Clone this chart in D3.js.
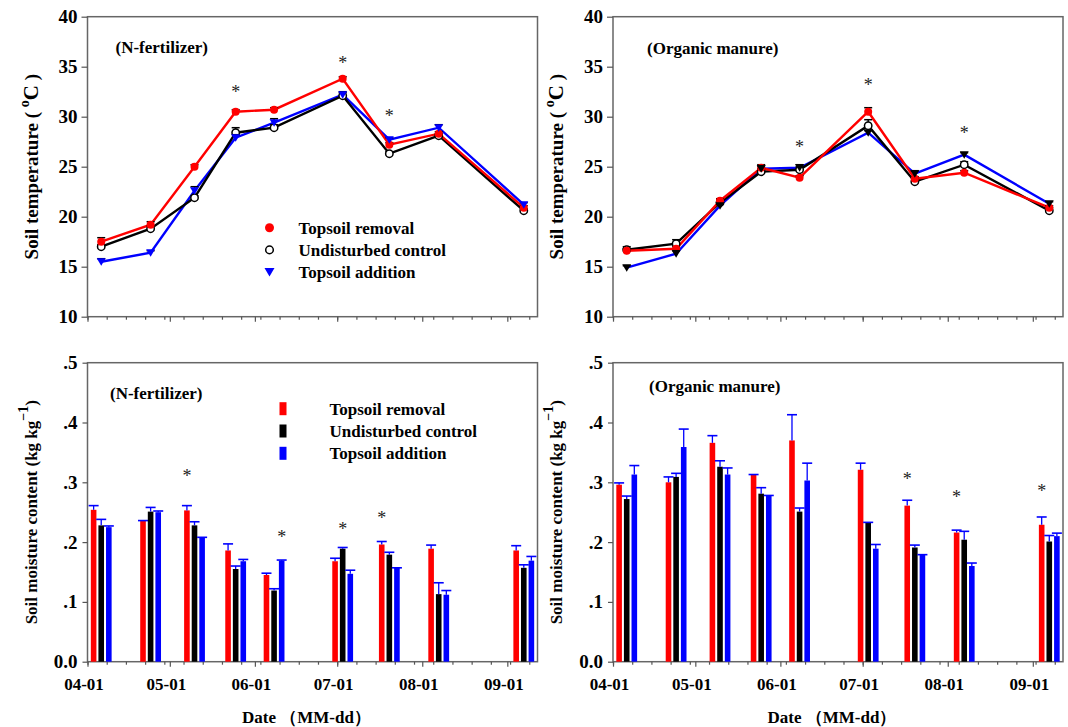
<!DOCTYPE html>
<meta charset="utf-8">
<style>
  body { margin: 0; background: #fff; }
  svg text { font-family: "Times New Roman", "Liberation Serif", serif; font-weight: bold; fill: #000; }
  .axis path { display: none; }
  .axis line { stroke: #555; stroke-width: 1.2; }
  .axis text { font-size: 17px; }
  .frame { fill: none; stroke: #666; stroke-width: 1.5; }
  .star { font-weight: normal; font-size: 18px; fill: #222; }
</style>
<body>
<script src="https://d3js.org/d3.v7.min.js"></script>
<script>
// sampling dates (MM-dd)
var dates = ["04-06", "04-24", "05-10", "05-25", "06-08", "07-03", "07-20", "08-07", "09-07"];
var seriesNames = ["Topsoil removal", "Undisturbed control", "Topsoil addition"];
var colors = ["#ff0000", "#000000", "#0000ff"];

// soil temperature, N-fertilizer
var tempN_removal = [17.5, 19.2, 25.0, 30.5, 30.7, 33.8, 27.2, 28.3, 20.9];
var tempN_control = [17.0, 18.8, 21.9, 28.4, 28.9, 32.1, 26.3, 28.1, 20.6];
var tempN_addition = [15.5, 16.4, 22.6, 27.9, 29.4, 32.2, 27.7, 28.9, 21.2];
var tempN_removalErr = [0.4, 0.3, 0.2, 0.2, 0.2, 0.2, 0.2, 0.2, 0.2];
var tempN_controlErr = [0.2, 0.3, 0.2, 0.5, 0.3, 0.3, 0.2, 0.2, 0.2];
var tempN_additionErr = [0.3, 0.2, 0.4, 0.3, 0.4, 0.3, 0.2, 0.3, 0.2];

// soil temperature, organic manure
var tempO_removal = [16.6, 16.8, 21.6, 24.9, 23.9, 30.5, 23.8, 24.4, 20.9];
var tempO_control = [16.7, 17.3, 21.4, 24.5, 24.7, 29.1, 23.5, 25.2, 20.6];
var tempO_addition = [14.9, 16.3, 21.1, 24.8, 24.9, 28.4, 24.3, 26.2, 21.3];
var tempO_removalErr = [0.2, 0.2, 0.2, 0.3, 0.2, 0.4, 0.2, 0.2, 0.2];
var tempO_controlErr = [0.3, 0.4, 0.3, 0.3, 0.3, 0.6, 0.3, 0.3, 0.3];
var tempO_additionErr = [0.2, 0.3, 0.2, 0.3, 0.3, 0.2, 0.3, 0.2, 0.2];

// soil moisture, N-fertilizer
var moistN_removal = [0.254, 0.236, 0.253, 0.186, 0.145, 0.168, 0.196, 0.189, 0.186];
var moistN_control = [0.228, 0.251, 0.228, 0.155, 0.119, 0.189, 0.179, 0.113, 0.157];
var moistN_addition = [0.225, 0.250, 0.207, 0.168, 0.169, 0.147, 0.157, 0.112, 0.169];
var moistN_removalErr = [0.007, 0.000, 0.008, 0.011, 0.003, 0.005, 0.005, 0.006, 0.008];
var moistN_controlErr = [0.010, 0.007, 0.006, 0.005, 0.003, 0.002, 0.004, 0.019, 0.005];
var moistN_additionErr = [0.002, 0.002, 0.001, 0.003, 0.001, 0.006, 0.000, 0.007, 0.007];

// soil moisture, organic manure
var moistO_removal = [0.296, 0.300, 0.366, 0.313, 0.370, 0.321, 0.261, 0.216, 0.229];
var moistO_control = [0.272, 0.309, 0.326, 0.281, 0.251, 0.232, 0.191, 0.204, 0.201];
var moistO_addition = [0.313, 0.359, 0.313, 0.278, 0.303, 0.189, 0.179, 0.160, 0.210];
var moistO_removalErr = [0.003, 0.009, 0.012, 0.000, 0.043, 0.011, 0.009, 0.004, 0.013];
var moistO_controlErr = [0.005, 0.006, 0.010, 0.010, 0.006, 0.001, 0.004, 0.014, 0.010];
var moistO_additionErr = [0.015, 0.030, 0.011, 0.000, 0.029, 0.007, 0.000, 0.005, 0.005];

// significance marks: date index, series (bar) index, y value
var starsTempN = [[3, 1, 32.7], [5, 1, 35.6], [6, 1, 30.3]];
var starsTempO = [[4, 1, 27.2], [5, 1, 33.4], [7, 1, 28.6]];
var starsMoistN = [[2, 0, 0.314], [4, 2, 0.213], [5, 1, 0.226], [6, 0, 0.244]];
var starsMoistO = [[6, 0, 0.309], [7, 0, 0.280], [8, 0, 0.289]];

var tempTicks = [10, 15, 20, 25, 30, 35, 40];
var moistTicks = [0, 0.1, 0.2, 0.3, 0.4, 0.5];

var parse = d3.timeParse("%m-%d");
var start = parse("04-01"), end = parse("09-12");
var W = 450, H = 300;

var svg = d3.select("body").append("svg")
    .attr("width", 1068)
    .attr("height", 727);

var x = d3.scaleTime().domain([start, end]).range([0, W]);
var majorTicks = d3.timeMonth.range(start, end);
var minorTicks = d3.range(0, 165, 7).map(function(d) { return d3.timeDay.offset(start, d); });

function xAxes(g, h, labels) {
  g.append("g").attr("class", "axis")
    .attr("transform", "translate(0," + h + ")")
    .call(d3.axisBottom(x).tickValues(minorTicks).tickSize(3).tickFormat(""));
  var ax = g.append("g").attr("class", "axis")
    .attr("transform", "translate(0," + h + ")")
    .call(d3.axisBottom(x).tickValues(majorTicks).tickSize(5).tickPadding(11)
      .tickFormat(labels ? d3.timeFormat("%m-%d") : ""));
  ax.selectAll("text").attr("dx", -4);
}

function tempPanel(px, py, vals, errs, stars, title, titlePos, triColor, legend) {
  var g = svg.append("g").attr("transform", "translate(" + px + "," + py + ")");
  var y = d3.scaleLinear().domain([10, 40]).range([H, 0]);

  g.append("rect").attr("class", "frame").attr("width", W).attr("height", H);
  g.append("g").attr("class", "axis")
    .call(d3.axisLeft(y).tickValues(tempTicks).tickSize(6).tickPadding(4))
    .selectAll("text").style("font-size", "19px");
  xAxes(g, H, false);

  var line = d3.line()
    .x(function(d, i) { return x(parse(dates[i])); })
    .y(function(d) { return y(d); });

  [2, 1, 0].forEach(function(k) {
    g.append("path").datum(vals[k])
      .attr("fill", "none").attr("stroke", colors[k]).attr("stroke-width", 2.4)
      .attr("d", line);
  });
  [1, 0, 2].forEach(function(k) {
    var eb = g.append("g");
    vals[k].forEach(function(v, i) {
      var cx = x(parse(dates[i]));
      eb.append("line").attr("x1", cx).attr("x2", cx)
        .attr("y1", y(v)).attr("y2", y(v + errs[k][i]))
        .attr("stroke", "#000").attr("stroke-width", 1.5);
      eb.append("line").attr("x1", cx - 4).attr("x2", cx + 4)
        .attr("y1", y(v + errs[k][i])).attr("y2", y(v + errs[k][i]))
        .attr("stroke", "#000").attr("stroke-width", 1.5);
    });
    var pts = g.selectAll(null).data(vals[k]).enter();
    if (k == 0) {
      pts.append("circle").attr("cx", function(d, i) { return x(parse(dates[i])); })
        .attr("cy", function(d) { return y(d); }).attr("r", 4).attr("fill", colors[0]);
    } else if (k == 1) {
      pts.append("circle").attr("cx", function(d, i) { return x(parse(dates[i])); })
        .attr("cy", function(d) { return y(d); }).attr("r", 3.7)
        .attr("fill", "#fff").attr("stroke", "#000").attr("stroke-width", 1.5);
    } else {
      pts.append("path").attr("d", "M-4.5,-3.5L4.5,-3.5L0,4Z")
        .attr("transform", function(d, i) { return "translate(" + x(parse(dates[i])) + "," + y(d) + ")"; })
        .attr("fill", triColor);
    }
  });

  g.selectAll(null).data(stars).enter().append("text")
    .attr("class", "star").attr("text-anchor", "middle")
    .attr("x", function(d) { return x(parse(dates[d[0]])); })
    .attr("y", function(d) { return y(d[2]); })
    .attr("dy", "0.47em").text("*");

  g.append("text").attr("x", titlePos[0]).attr("y", titlePos[1]).attr("dy", "0.35em")
    .style("font-size", "17px").text(title);

  var yl = g.append("text")
    .attr("transform", "translate(" + (-50) + "," + (H / 2) + ") rotate(-90)")
    .attr("text-anchor", "middle").style("font-size", "19px");
  yl.append("tspan").text("Soil temperature ( ");
  yl.append("tspan").attr("dy", -9).style("font-size", "14px").text("o");
  yl.append("tspan").attr("dy", 9).style("font-size", "21px").text("C");
  yl.append("tspan").text(" )");

  if (legend) {
    var lg = g.append("g").attr("transform", "translate(182,211)");
    seriesNames.forEach(function(n, k) {
      var row = lg.append("g").attr("transform", "translate(0," + (k * 22.2) + ")");
      if (k == 0) row.append("circle").attr("r", 4.5).attr("fill", colors[0]);
      else if (k == 1) row.append("circle").attr("r", 3.8).attr("fill", "#fff")
        .attr("stroke", "#000").attr("stroke-width", 1.5);
      else row.append("path").attr("d", "M-5,-4L5,-4L0,4.5Z").attr("fill", colors[2]);
      row.append("text").attr("x", 29).attr("dy", "0.35em").style("font-size", "17px").text(n);
    });
  }
}

function moistPanel(px, py, vals, errs, stars, title, titlePos, legend) {
  var h = 299;
  var g = svg.append("g").attr("transform", "translate(" + px + "," + py + ")");
  var y = d3.scaleLinear().domain([0, 0.5]).range([h, 0]);

  g.append("rect").attr("class", "frame").attr("width", W).attr("height", h);
  g.append("g").attr("class", "axis")
    .call(d3.axisLeft(y).tickValues(moistTicks).tickSize(5).tickPadding(5)
      .tickFormat(function(d) { return d === 0 ? "0.0" : d3.format(".1f")(d).replace("0.", "."); }))
    .selectAll("text").style("font-size", "19px");
  xAxes(g, h, true);

  var step = 7.6, bw = 5.6;
  function bx(i, k) { return x(parse(dates[i])) + (k - 1) * step; }

  vals.forEach(function(s, k) {
    g.selectAll(null).data(s).enter().append("rect")
      .attr("x", function(d, i) { return bx(i, k) - bw / 2; })
      .attr("y", function(d) { return y(d); })
      .attr("width", bw)
      .attr("height", function(d) { return h - y(d); })
      .attr("fill", colors[k]);
    s.forEach(function(v, i) {
      var cx = bx(i, k), top = y(v + errs[k][i]);
      g.append("line").attr("x1", cx).attr("x2", cx).attr("y1", y(v)).attr("y2", top)
        .attr("stroke", "#0000ff").attr("stroke-width", 1.3);
      g.append("line").attr("x1", cx - 5).attr("x2", cx + 5).attr("y1", top).attr("y2", top)
        .attr("stroke", "#0000ff").attr("stroke-width", 1.6);
    });
  });

  g.selectAll(null).data(stars).enter().append("text")
    .attr("class", "star").attr("text-anchor", "middle")
    .attr("x", function(d) { return bx(d[0], d[1]); })
    .attr("y", function(d) { return y(d[2]); })
    .attr("dy", "0.47em").text("*");

  g.append("text").attr("x", titlePos[0]).attr("y", titlePos[1]).attr("dy", "0.35em")
    .style("font-size", "17px").text(title);

  var yl = g.append("text")
    .attr("transform", "translate(" + (-51) + "," + (h / 2) + ") rotate(-90)")
    .attr("text-anchor", "middle").style("font-size", "17px");
  yl.append("tspan").text("Soil moisture content (kg kg");
  yl.append("tspan").attr("dy", -9).style("font-size", "14px").text("\u22121");
  yl.append("tspan").attr("dy", 9).text(")");

  g.append("text").attr("x", W / 2 - 6).attr("y", 354).attr("dy", "0.35em")
    .attr("text-anchor", "middle").style("font-size", "17px").text("Date （MM-dd）");

  if (legend) {
    var lg = g.append("g").attr("transform", "translate(192,46)");
    seriesNames.forEach(function(n, k) {
      var row = lg.append("g").attr("transform", "translate(0," + (k * 22.3) + ")");
      row.append("rect").attr("x", 0).attr("y", -6.5).attr("width", 7).attr("height", 13)
        .attr("fill", colors[k]);
      row.append("text").attr("x", 50).attr("dy", "0.35em").style("font-size", "17px").text(n);
    });
  }
}

tempPanel(87.5, 16.7,
  [tempN_removal, tempN_control, tempN_addition],
  [tempN_removalErr, tempN_controlErr, tempN_additionErr],
  starsTempN, "(N-fertilizer)", [28, 30], colors[2], true);
tempPanel(613, 16.7,
  [tempO_removal, tempO_control, tempO_addition],
  [tempO_removalErr, tempO_controlErr, tempO_additionErr],
  starsTempO, "(Organic manure)", [34, 31], "#000", false);
moistPanel(87.5, 362.7,
  [moistN_removal, moistN_control, moistN_addition],
  [moistN_removalErr, moistN_controlErr, moistN_additionErr],
  starsMoistN, "(N-fertilizer)", [22.5, 30], true);
moistPanel(613, 362.7,
  [moistO_removal, moistO_control, moistO_addition],
  [moistO_removalErr, moistO_controlErr, moistO_additionErr],
  starsMoistO, "(Organic manure)", [36, 23], false);
</script>
